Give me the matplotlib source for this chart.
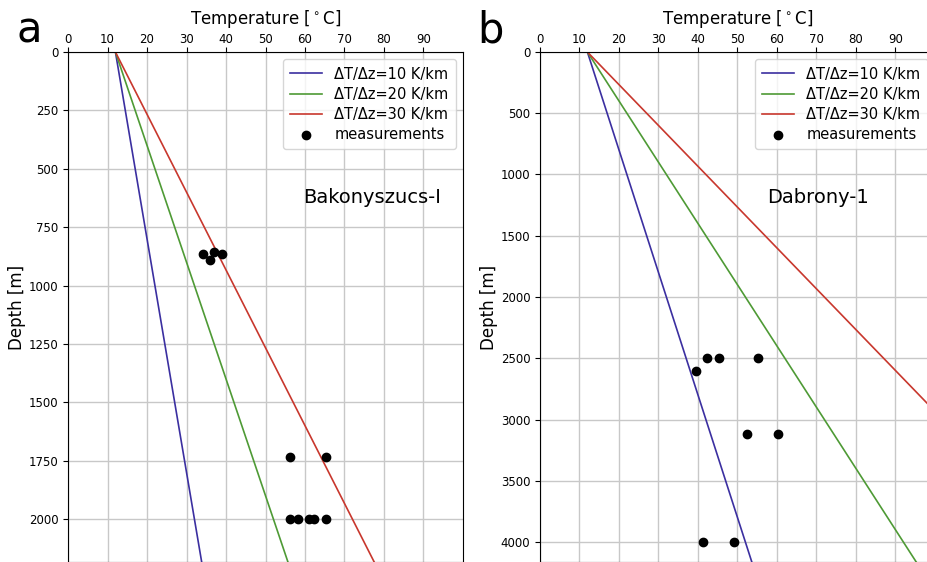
import matplotlib.pyplot as plt
import numpy as np

# Geothermal gradients and surface temperature
SURFACE_T = 12.0
GRADIENTS = [10, 20, 30]  # K/km
GRAD_COLORS = ["#3b2fa0", "#4e9a35", "#c8372d"]

# Bakonyszucs-I measurements
BAK_T = [34.3, 35.9, 37.0, 39.1, 56.2, 65.2, 56.2, 58.2, 61.1, 62.4, 65.2]
BAK_Z = [865, 890, 857, 865, 1733, 1733, 2000, 2000, 2000, 2000, 2000]

# Dabrony-1 measurements
DAB_T = [42.3, 45.3, 55.2, 39.4, 52.3, 60.2, 41.3, 49.2]
DAB_Z = [2500, 2500, 2500, 2600, 3120, 3120, 4000, 4000]

GRID = {"color": "#c8c8c8", "linewidth": 1.0}


def draw_panel(ax, temps, depths, zmax, yticks, name, name_xy):
    z = np.array([0, zmax])
    for grad, col in zip(GRADIENTS, GRAD_COLORS):
        ax.plot(SURFACE_T + grad * z / 1000.0, z, color=col, linewidth=1.2,
                label=f"ΔT/Δz={grad} K/km")
    ax.scatter(temps, depths, color="black", s=36, zorder=5, label="measurements")
    ax.set_xlim(0, 100)
    ax.set_ylim(zmax, 0)
    ax.set_xticks(range(0, 100, 10))
    ax.set_yticks(yticks)
    ax.xaxis.tick_top()
    ax.xaxis.set_label_position("top")
    ax.set_xlabel("Temperature [$^\\circ$C]", fontsize=12, labelpad=6)
    ax.set_ylabel("Depth [m]", fontsize=12, labelpad=2)
    ax.tick_params(labelsize=8.5)
    ax.tick_params(axis="x", pad=1)
    ax.grid(True, **GRID)
    ax.set_axisbelow(True)
    ax.legend(loc="upper right", fontsize=10.5, handlelength=2.2,
              borderpad=0.5, labelspacing=0.35)
    ax.text(name_xy[0], name_xy[1], name, fontsize=14, ha="center", va="center")


fig = plt.figure(figsize=(9.28, 5.62), dpi=100)
ax_a = fig.add_axes([0.0733, 0.0, 0.4256, 0.9075])
ax_b = fig.add_axes([0.5819, 0.0, 0.4256, 0.9075])

draw_panel(ax_a, BAK_T, BAK_Z, 2184, range(0, 2001, 250), "Bakonyszucs-I", (77, 625))
draw_panel(ax_b, DAB_T, DAB_Z, 4163, range(0, 4001, 500), "Dabrony-1", (70.5, 1190))

fig.text(0.032, 0.945, "a", fontsize=30, ha="center", va="center")
fig.text(0.528, 0.945, "b", fontsize=30, ha="center", va="center")

fig.savefig("out.png", dpi=100)
